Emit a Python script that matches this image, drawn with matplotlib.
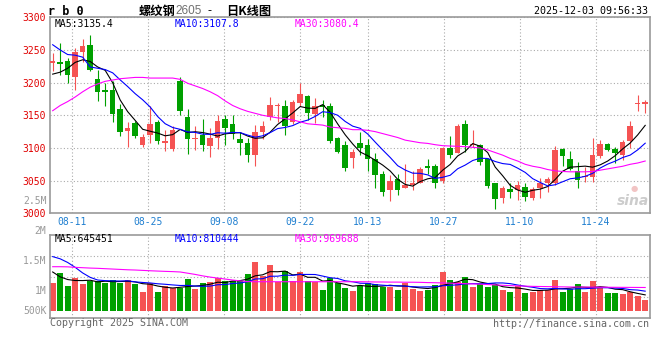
import matplotlib
matplotlib.use("Agg")
import matplotlib.pyplot as plt

plt.rcParams['font.family'] = ['DejaVu Sans Mono', 'Noto Sans CJK SC']

# ---- data ----
date_labels = ['08-11', '08-25', '09-08', '09-22', '10-13', '10-27', '11-10', '11-24']

opens = [3230, 3232, 3233, 3208, 3247, 3258, 3205, 3188, 3189, 3160,
         3126, 3138, 3104, 3120, 3140, 3107, 3099, 3203, 3148, 3113,
         3120, 3103, 3115, 3144, 3137, 3113, 3108, 3090, 3124, 3147,
         3164, 3165, 3139, 3169, 3180, 3152, 3166, 3164, 3115, 3105,
         3085, 3107, 3105, 3083, 3060, 3035, 3052, 3039, 3043, 3047,
         3072, 3072, 3049, 3100, 3093, 3137, 3104, 3105, 3083, 3046,
         3024, 3037, 3036, 3040, 3023, 3039, 3046, 3046, 3099, 3083,
         3065, 3056, 3055, 3088, 3106, 3098, 3089, 3110, 3167, 3167]
highs = [3246, 3261, 3238, 3253, 3267, 3273, 3220, 3200, 3203, 3167,
         3140, 3142, 3122, 3164, 3143, 3128, 3133, 3209, 3160, 3134,
         3145, 3130, 3151, 3151, 3151, 3124, 3115, 3135, 3142, 3178,
         3169, 3173, 3174, 3199, 3181, 3177, 3174, 3169, 3117, 3110,
         3099, 3124, 3114, 3092, 3064, 3058, 3060, 3075, 3065, 3071,
         3083, 3076, 3101, 3118, 3136, 3143, 3127, 3106, 3084, 3047,
         3042, 3046, 3050, 3046, 3041, 3054, 3055, 3103, 3100, 3095,
         3079, 3071, 3116, 3112, 3107, 3101, 3112, 3141, 3181, 3174]
lows = [3218, 3211, 3200, 3189, 3232, 3218, 3172, 3165, 3139, 3119,
        3101, 3115, 3102, 3108, 3106, 3095, 3096, 3150, 3091, 3097,
        3096, 3086, 3098, 3104, 3113, 3090, 3079, 3072, 3113, 3143,
        3140, 3120, 3136, 3165, 3143, 3138, 3148, 3108, 3092, 3065,
        3070, 3090, 3065, 3038, 3026, 3019, 3028, 3038, 3035, 3046,
        3060, 3038, 3047, 3085, 3092, 3094, 3102, 3074, 3039, 3007,
        3016, 3023, 3021, 3019, 3020, 3024, 3033, 3043, 3073, 3066,
        3039, 3048, 3048, 3084, 3095, 3077, 3082, 3100, 3157, 3153]
closes = [3233, 3228, 3211, 3247, 3256, 3220, 3186, 3185, 3152, 3124,
          3131, 3119, 3117, 3137, 3110, 3110, 3128, 3157, 3113, 3116,
          3104, 3116, 3142, 3130, 3122, 3107, 3090, 3125, 3134, 3165,
          3166, 3133, 3170, 3183, 3153, 3164, 3162, 3111, 3094, 3070,
          3094, 3100, 3083, 3059, 3033, 3049, 3036, 3044, 3046, 3068,
          3070, 3046, 3100, 3090, 3133, 3105, 3106, 3079, 3042, 3022,
          3038, 3033, 3043, 3025, 3037, 3047, 3053, 3097, 3088, 3068,
          3051, 3057, 3089, 3106, 3097, 3092, 3109, 3134, 3168, 3170]

ma5 = [3213, 3216, 3222, 3231, 3235.0, 3232.4, 3224.0, 3218.8, 3199.8, 3173.4,
       3155.6, 3142.2, 3128.6, 3125.6, 3122.8, 3118.6, 3120.4, 3128.4, 3123.6, 3124.8,
       3123.6, 3121.2, 3118.2, 3121.6, 3122.8, 3123.4, 3118.2, 3114.8, 3115.6, 3124.2,
       3136.0, 3144.6, 3153.6, 3163.4, 3161.0, 3160.6, 3166.4, 3154.6, 3136.8, 3120.2,
       3106.2, 3093.8, 3088.2, 3081.2, 3073.8, 3064.8, 3052.0, 3044.2, 3041.6, 3048.6,
       3052.8, 3054.8, 3066.0, 3074.8, 3087.8, 3094.8, 3106.8, 3102.6, 3093.0, 3070.8,
       3057.4, 3042.8, 3035.6, 3032.2, 3035.2, 3037.0, 3041.0, 3051.8, 3064.4, 3070.6,
       3071.4, 3072.2, 3070.6, 3074.2, 3080.0, 3088.2, 3098.6, 3107.6, 3120.0, 3134.6]
ma10 = [3258, 3250, 3243, 3242, 3239, 3224, 3222, 3220, 3215, 3204.2,
        3194.0, 3183.1, 3173.7, 3162.7, 3148.1, 3137.1, 3131.3, 3128.5, 3124.6, 3123.8,
        3121.1, 3120.8, 3123.3, 3122.6, 3123.8, 3123.5, 3119.7, 3116.5, 3118.6, 3123.5,
        3129.7, 3131.4, 3134.2, 3139.5, 3142.6, 3148.3, 3155.5, 3154.1, 3150.1, 3140.6,
        3133.4, 3130.1, 3121.4, 3109.0, 3097.0, 3085.5, 3072.9, 3066.2, 3061.4, 3061.2,
        3058.8, 3053.4, 3055.1, 3058.2, 3068.2, 3073.8, 3080.8, 3084.3, 3083.9, 3079.3,
        3076.1, 3074.8, 3069.1, 3062.6, 3053.0, 3047.2, 3041.9, 3043.7, 3048.3, 3052.9,
        3054.2, 3056.6, 3061.2, 3069.3, 3075.3, 3079.8, 3085.4, 3089.1, 3097.1, 3107.3]
ma30 = [3157, 3165, 3171, 3178, 3186, 3193, 3198, 3202, 3204, 3206,
        3207, 3208, 3208, 3207, 3207, 3207, 3207, 3205, 3199, 3195,
        3191, 3186, 3180, 3172, 3165, 3160, 3156, 3153, 3150, 3148,
        3146, 3145, 3143, 3140, 3137, 3136, 3135, 3132, 3131, 3130,
        3128, 3128, 3127, 3125, 3122, 3119, 3116, 3112, 3110, 3108,
        3107, 3105, 3103.5, 3103, 3102.5, 3102, 3101, 3100, 3097, 3093,
        3089, 3084, 3080, 3075, 3072, 3070, 3067, 3065, 3064, 3063.5,
        3063.5, 3063.5, 3064, 3066, 3068, 3070, 3072, 3075, 3077, 3080]

# volume in thousands of lots
volumes = [1160, 1570, 1025, 1365, 1120, 1230, 1230, 1160, 1270, 1160,
           1270, 1107, 791, 1160, 791, 1025, 955, 931, 1312, 890,
           1160, 1201, 1341, 1230, 1230, 1230, 1505, 2021, 1435, 1886,
           1201, 1640, 1230, 1611, 1230, 1201, 861, 1341, 1136, 931,
           820, 1025, 1160, 1107, 996, 996, 861, 1160, 902, 820,
           861, 1066, 1599, 1271, 1189, 1394, 972, 1107, 972, 1066,
           861, 791, 1025, 750, 791, 861, 861, 1271, 791, 902,
           1107, 791, 1230, 955, 750, 750, 697, 791, 615, 451]
vol_ma5 = [1600, 1400, 1290, 1250, 1248, 1262, 1194, 1221, 1202, 1210,
           1218, 1193, 1120, 1098, 1024, 975, 944, 972, 1003, 1023,
           1050, 1099, 1181, 1164, 1232, 1246, 1307, 1443, 1484, 1615,
           1610, 1637, 1478, 1514, 1382, 1382, 1227, 1249, 1154, 1094,
           1018, 1051, 1014, 1009, 1022, 1057, 1024, 1024, 983, 948,
           921, 962, 1050, 1123, 1197, 1304, 1285, 1187, 1127, 1102,
           996, 959, 943, 899, 844, 844, 858, 907, 915, 937,
           986, 972, 964, 997, 967, 895, 876, 789, 721, 661]
vol_ma10 = [2230, 2140, 1990, 1790, 1560, 1380, 1270, 1245, 1235, 1229,
            1240, 1194, 1170, 1150, 1117, 1096, 1069, 1046, 1050, 1023,
            1012, 1022, 1077, 1084, 1128, 1148, 1203, 1312, 1324, 1424,
            1428, 1472, 1461, 1499, 1499, 1496, 1432, 1364, 1334, 1238,
            1200, 1139, 1132, 1081, 1058, 1037, 1037, 1019, 996, 985,
            989, 993, 1037, 1053, 1073, 1112, 1123, 1118, 1125, 1150,
            1150, 1122, 1065, 1013, 973, 920, 909, 925, 907, 890,
            915, 915, 936, 956, 952, 941, 924, 876, 859, 814]
vol_ma30 = [1816, 1816, 1810, 1790, 1775, 1760, 1750, 1735, 1720, 1705,
            1690, 1680, 1665, 1650, 1637, 1625, 1615, 1600, 1550, 1500,
            1440, 1390, 1350, 1310, 1270, 1235, 1205, 1200, 1200, 1200,
            1200, 1200, 1200, 1200, 1200, 1200, 1200, 1200, 1200, 1200,
            1200, 1200, 1195, 1190, 1190, 1185, 1185, 1180, 1180, 1175,
            1165, 1160, 1150, 1140, 1130, 1120, 1110, 1100, 1085, 1070,
            1055, 1040, 1030, 1020, 1010, 1005, 1000, 995, 990, 985,
            982, 980, 978, 976, 974, 972, 970, 968, 966, 964]

# ---- layout (pixels of a 660x360 canvas) ----
W, H = 660, 360
RED = '#f55353'
GREEN = '#00a000'
GRID = '#aaaaaa'
tick_pos = [2.57, 12.7, 22.84, 32.97, 42.04, 52.17, 62.3, 72.43]
XLIM = (-0.29, 79.64)


def fx(x):
    return x / W


def fy(y):
    return 1 - y / H


fig = plt.figure(figsize=(6.6, 3.6), dpi=100)
fig.patch.set_facecolor('white')

xs = list(range(len(closes)))
cols = [RED if c >= o else GREEN for o, c in zip(opens, closes)]

# price panel
ax = fig.add_axes([fx(50.5), fy(213.3), (650 - 50.5) / W, (213.3 - 17.3) / H])
ax.set_xlim(*XLIM)
ax.set_ylim(3000, 3300)
ax.vlines(xs, lows, highs, colors=cols, linewidth=0.8, zorder=2)
bottoms = [min(o, c) for o, c in zip(opens, closes)]
heights = [max(abs(c - o), 1.6) for o, c in zip(opens, closes)]
ax.bar(xs, heights, bottom=bottoms, width=0.72, color=cols, linewidth=0, zorder=3)
ax.plot(xs, ma5, color='black', linewidth=0.8, zorder=4)
ax.plot(xs, ma10, color='#0000ff', linewidth=0.8, zorder=4)
ax.plot(xs, ma30, color='#ff00ff', linewidth=0.8, zorder=4)

ax.set_yticks(range(3000, 3301, 50))
ax.set_xticks(tick_pos)
ax.set_xticklabels(date_labels)
ax.tick_params(axis='both', length=0, labelsize=7)
ax.tick_params(axis='y', colors='#e00000', pad=3.5)
ax.tick_params(axis='x', colors='#1f7fd0', pad=3)
ax.grid(True, color=GRID, linestyle=(0, (1, 2)), linewidth=0.8)
for s in ax.spines.values():
    s.set_color('#9a9a9a')
    s.set_linewidth(1.2)

ax.text(fx(55), fy(24), 'MA5:3135.4', transform=fig.transFigure, fontsize=7,
        color='black', va='center')
ax.text(fx(175), fy(24), 'MA10:3107.8', transform=fig.transFigure, fontsize=7,
        color='#0000ff', va='center')
ax.text(fx(295), fy(24), 'MA30:3080.4', transform=fig.transFigure, fontsize=7,
        color='#ff00ff', va='center')
# sina watermark
ax.text(fx(649), fy(201), 'sina', transform=fig.transFigure, fontsize=10, color='#cccccc',
        family='DejaVu Sans', style='italic', fontweight='bold', ha='right', va='center',
        zorder=1)
ax.text(fx(634), fy(189), '●', transform=fig.transFigure, fontsize=6, color='#f2c4c4',
        family='DejaVu Sans', ha='center', va='center', zorder=1)

# volume panel
vax = fig.add_axes([fx(50.5), fy(318.3), (650 - 50.5) / W, (318.3 - 235) / H])
vax.set_xlim(*XLIM)
vlo, vhi = -299, 3116
vax.set_ylim(vlo, vhi)
vax.bar(xs, volumes, width=0.8, color=cols, linewidth=0, zorder=2)
vax.plot(xs, vol_ma5, color='black', linewidth=0.8, zorder=3)
vax.plot(xs, vol_ma10, color='#0000ff', linewidth=0.8, zorder=3)
vax.plot(xs, vol_ma30, color='#ff00ff', linewidth=0.8, zorder=3)
vax.set_xticks(tick_pos)
vax.set_xticklabels([])
vax.set_yticks([vlo + (vhi - vlo) * f for f in (0.25, 0.5, 0.75)])
vax.set_yticklabels([])
vax.tick_params(length=0)
vax.grid(True, color=GRID, linestyle=(0, (1, 2)), linewidth=0.8)
for s in vax.spines.values():
    s.set_color('#9a9a9a')
    s.set_linewidth(1.2)

vax.text(fx(55), fy(239.5), 'MA5:645451', transform=fig.transFigure, fontsize=7,
         color='black', va='center')
vax.text(fx(175), fy(239.5), 'MA10:810444', transform=fig.transFigure, fontsize=7,
         color='#0000ff', va='center')
vax.text(fx(295), fy(239.5), 'MA30:969688', transform=fig.transFigure, fontsize=7,
         color='#ff00ff', va='center')

for lab, yy in [('2M', 231), ('1.5M', 260.7), ('1M', 290.5), ('500K', 310.7), ('2.5M', 200.5)]:
    fig.text(fx(46.5), fy(yy), lab, fontsize=7, color='#999999', ha='right', va='center')

# header
fig.text(fx(48), fy(11.5), 'r b 0', fontsize=8.5, fontweight='bold', color='black',
         va='center')
fig.text(fx(139), fy(11), '螺纹钢', family=['Noto Sans CJK SC'], fontsize=8.8,
         fontweight='bold', va='center')
fig.text(fx(175), fy(11.5), '2605', family=['Liberation Sans'], fontsize=8.5,
         color='#707070', va='center')
fig.text(fx(210), fy(11), '-', family=['Liberation Sans'], fontsize=9, ha='center',
         va='center')
fig.text(fx(226), fy(11), '日K线图', family=['Noto Sans CJK SC'], fontsize=8.8,
         fontweight='bold', va='center')
fig.text(fx(648), fy(11.5), '2025-12-03 09:56:33', fontsize=7.2, ha='right', va='center')

# footer
fig.text(fx(50), fy(323.5), 'Copyright 2025 SINA.COM', fontsize=7.2, color='#666666',
         va='center')
fig.text(fx(649), fy(324), 'http://finance.sina.com.cn', fontsize=7.2, color='#666666',
         ha='right', va='center')

fig.savefig('out.png', dpi=100)
